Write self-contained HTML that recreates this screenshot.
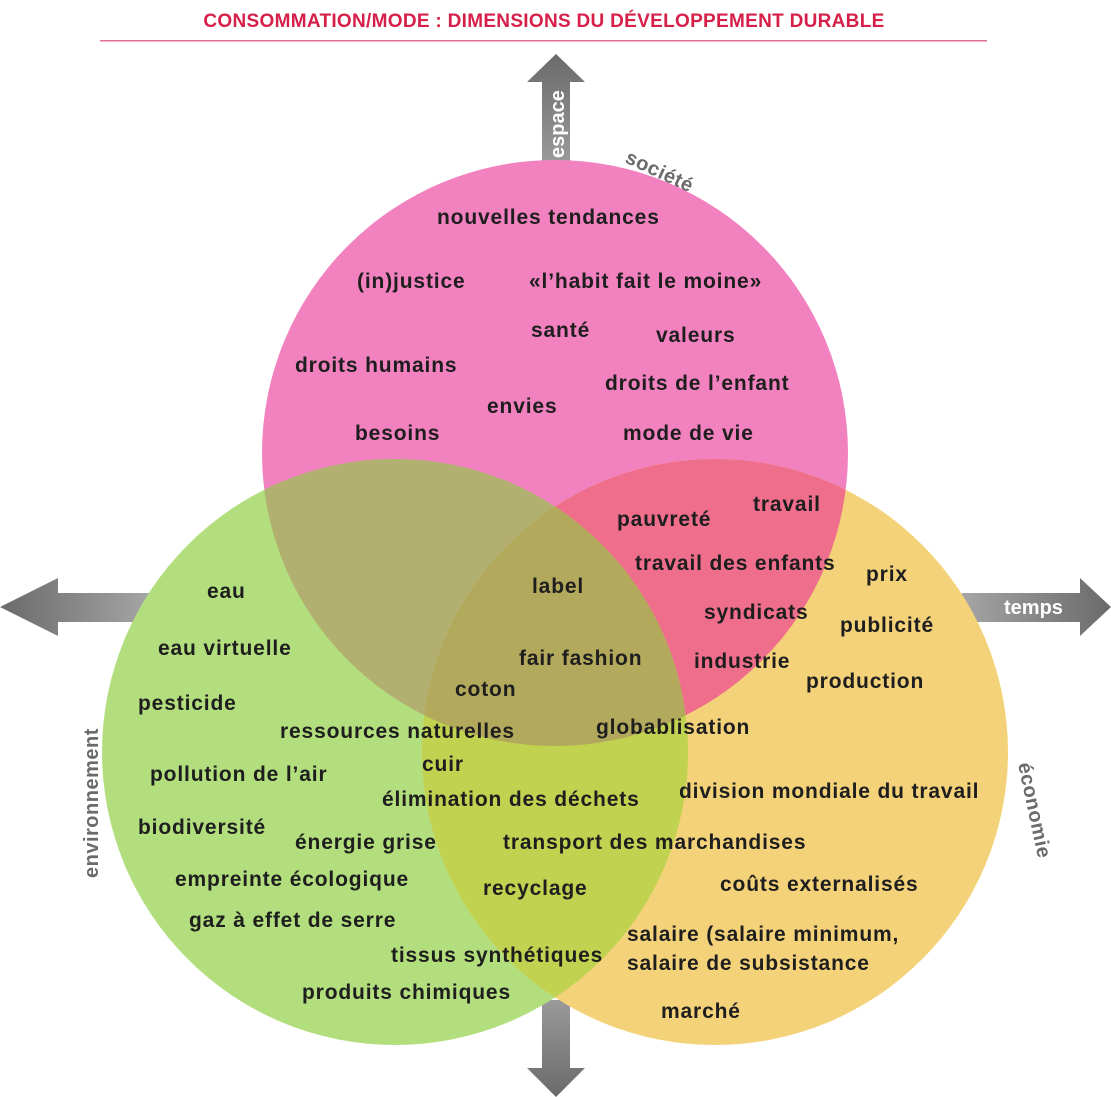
<!DOCTYPE html>
<html><head><meta charset="utf-8"><style>
html,body{margin:0;padding:0;background:#fff;}
svg{display:block;}
text{font-family:"Liberation Sans",sans-serif;}
.l{font-size:21px;font-weight:bold;fill:#1e1e1e;letter-spacing:0.85px;}
.g{font-size:20px;font-weight:bold;fill:#6b6b6b;letter-spacing:0.5px;}
</style></head><body>
<svg width="1111" height="1097" viewBox="0 0 1111 1097" xmlns="http://www.w3.org/2000/svg">
<defs>
<linearGradient id="gv" x1="0" y1="0" x2="0" y2="1"><stop offset="0" stop-color="#6a6a6a"/><stop offset="1" stop-color="#9a9a9a"/></linearGradient>
<linearGradient id="gv2" x1="0" y1="1" x2="0" y2="0"><stop offset="0" stop-color="#6a6a6a"/><stop offset="1" stop-color="#9a9a9a"/></linearGradient>
<linearGradient id="gl" x1="0" y1="0" x2="1" y2="0"><stop offset="0" stop-color="#6a6a6a"/><stop offset="1" stop-color="#a5a5a5"/></linearGradient>
<linearGradient id="gr" x1="1" y1="0" x2="0" y2="0"><stop offset="0" stop-color="#6a6a6a"/><stop offset="1" stop-color="#a5a5a5"/></linearGradient>
<clipPath id="cp"><circle cx="555" cy="453" r="293"/></clipPath>
<clipPath id="cg"><circle cx="395" cy="752" r="293"/></clipPath>
<clipPath id="cy"><circle cx="715" cy="752" r="293"/></clipPath>
</defs>
<text x="544" y="27" text-anchor="middle" style="font-size:19px;font-weight:bold;fill:#d6204a;letter-spacing:0.3px;">CONSOMMATION/MODE : DIMENSIONS DU DÉVELOPPEMENT DURABLE</text>
<rect x="100" y="40" width="887" height="1.5" fill="#e07090"/>
<polygon points="542,162 570,162 570,82 585,82 556,54 527,82 542,82" fill="url(#gv)"/>
<polygon points="542,1000 570,1000 570,1068 585,1068 556,1097 527,1068 542,1068" fill="url(#gv2)"/>
<polygon points="150,593 58,593 58,578 0,607 58,636 58,622 150,622" fill="url(#gl)"/>
<polygon points="962,593 1080,593 1080,578 1111,607 1080,636 1080,622 962,622" fill="url(#gr)"/>
<text transform="translate(564,158) rotate(-90)" style="font-size:20px;font-weight:bold;fill:#fff">espace</text>
<text x="1004" y="614" style="font-size:20px;font-weight:bold;fill:#fff">temps</text>
<circle cx="555" cy="453" r="293" fill="#f282bf"/>
<circle cx="395" cy="752" r="293" fill="#b3de7d"/>
<circle cx="715" cy="752" r="293" fill="#f4d279"/>
<g clip-path="url(#cp)"><circle cx="395" cy="752" r="293" fill="#b2b070"/><circle cx="715" cy="752" r="293" fill="#ee6e8c"/></g>
<g clip-path="url(#cg)"><g clip-path="url(#cy)"><rect x="0" y="0" width="1111" height="1097" fill="#c0d24f"/><circle cx="555" cy="453" r="293" fill="#b3a95c"/></g></g>
<text transform="translate(624,162) rotate(25)" class="g">société</text>
<text transform="translate(98,878) rotate(-90)" class="g">environnement</text>
<text transform="translate(1018,764) rotate(78)" class="g">économie</text>
<g class="l">
<text x="437" y="224">nouvelles tendances</text>
<text x="357" y="288">(in)justice</text>
<text x="529" y="288">«l’habit fait le moine»</text>
<text x="531" y="337">santé</text>
<text x="656" y="342">valeurs</text>
<text x="295" y="372">droits humains</text>
<text x="605" y="390">droits de l’enfant</text>
<text x="487" y="413">envies</text>
<text x="355" y="440">besoins</text>
<text x="623" y="440">mode de vie</text>
<text x="617" y="526">pauvreté</text>
<text x="753" y="511">travail</text>
<text x="635" y="570">travail des enfants</text>
<text x="866" y="581">prix</text>
<text x="207" y="598">eau</text>
<text x="532" y="593">label</text>
<text x="704" y="619">syndicats</text>
<text x="840" y="632">publicité</text>
<text x="158" y="655">eau virtuelle</text>
<text x="519" y="665">fair fashion</text>
<text x="694" y="668">industrie</text>
<text x="455" y="696">coton</text>
<text x="806" y="688">production</text>
<text x="138" y="710">pesticide</text>
<text x="280" y="738">ressources naturelles</text>
<text x="596" y="734">globablisation</text>
<text x="422" y="771">cuir</text>
<text x="150" y="781">pollution de l’air</text>
<text x="679" y="798">division mondiale du travail</text>
<text x="382" y="806">élimination des déchets</text>
<text x="138" y="834">biodiversité</text>
<text x="295" y="849">énergie grise</text>
<text x="503" y="849">transport des marchandises</text>
<text x="175" y="886">empreinte écologique</text>
<text x="483" y="895">recyclage</text>
<text x="720" y="891">coûts externalisés</text>
<text x="189" y="927">gaz à effet de serre</text>
<text x="627" y="941">salaire (salaire minimum,</text>
<text x="391" y="962">tissus synthétiques</text>
<text x="627" y="970">salaire de subsistance</text>
<text x="302" y="999">produits chimiques</text>
<text x="661" y="1018">marché</text>
</g>
</svg>
</body></html>
